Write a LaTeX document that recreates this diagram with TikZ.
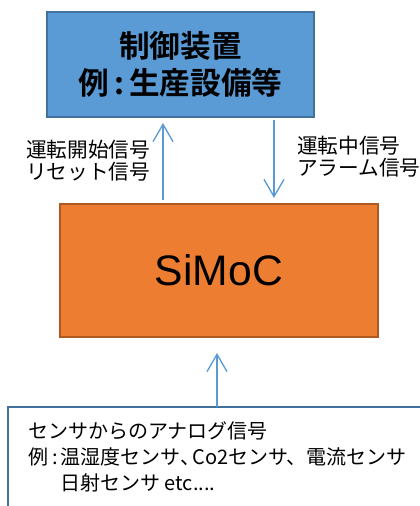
\documentclass[tikz,border=0pt]{standalone}
\usepackage{fontspec}
\setmainfont{Noto Sans CJK JP}
\newfontfamily\jpbold{Noto Sans CJK JP}[BoldFont={* Bold}]
\newfontfamily\latinsans{Liberation Sans}
\usetikzlibrary{arrows.meta}
\definecolor{boxblue}{HTML}{5B9BD5}
\definecolor{boxblueline}{HTML}{41719C}
\definecolor{boxorange}{HTML}{ED7D31}
\definecolor{boxorangeline}{HTML}{AE5A21}
\tikzset{
  ctrlbox/.style={draw=boxblueline, fill=boxblue, line width=1.2pt, inner sep=0pt,
    minimum width={267*0.75pt}, minimum height={105*0.75pt}, align=center,
    font=\jpbold\bfseries\fontsize{23pt}{28pt}\selectfont},
  simocbox/.style={draw=boxorangeline, fill=boxorange, line width=1.2pt, inner sep=0pt,
    minimum width={318*0.75pt}, minimum height={133*0.75pt},
    font=\latinsans\fontsize{32pt}{38pt}\selectfont},
  sig/.style={draw=boxblue, line width=1pt, -{Straight Barb[length=13pt,width=15pt,line width=1pt]}},
  lbl/.style={inner sep=0pt, align=left, anchor=west, font=\fontsize{15.5pt}{16.5pt}\selectfont},
  sensortext/.style={inner sep=0pt, align=left, anchor=north west, font=\fontsize{15pt}{19.5pt}\selectfont},
  frame/.style={draw=boxblueline, line width=1.5pt}
}
\begin{document}
\begin{tikzpicture}[x=0.75pt, y=-0.75pt]
\useasboundingbox (0,0) rectangle (419,506);
% control device
\node[ctrlbox] (ctrl) at (180.5,64.5) {制御装置\\例\,:\,生産設備等};
% SiMoC
\node[simocbox] (simoc) at (219,270.5) {SiMoC};
% arrows between
\coordinate (upS) at (163,200);
\coordinate (upE) at (163,123);
\coordinate (dnS) at (274,120);
\coordinate (dnE) at (274,198);
\draw[sig] (upS) -- (upE);
\draw[sig] (dnS) -- (dnE);
% labels
\node[lbl] (lblL) at (26,161) {運転開始信号\\リセット信号};
\node[lbl] (lblR) at (297,157) {運転中信号\\アラーム信号};
% sensor frame (partially visible)
\coordinate (fBL) at (8,510);
\coordinate (fTL) at (8,407);
\coordinate (fTR) at (425,407);
\coordinate (fTop) at (217,407);
\coordinate (fArr) at (217,353);
\draw[frame] (fBL) -- (fTL) -- (fTR);
\draw[sig] (fTop) -- (fArr);
\node[sensortext] (sens) at (28,421) {センサからのアナログ信号\\
\makebox[24pt][l]{例\hfill:\hspace{2pt}}温湿度センサ\makebox[9pt][l]{、}Co2センサ、電流センサ\\
\hspace{24pt}日射センサ etc....};
\end{tikzpicture}
\end{document}
